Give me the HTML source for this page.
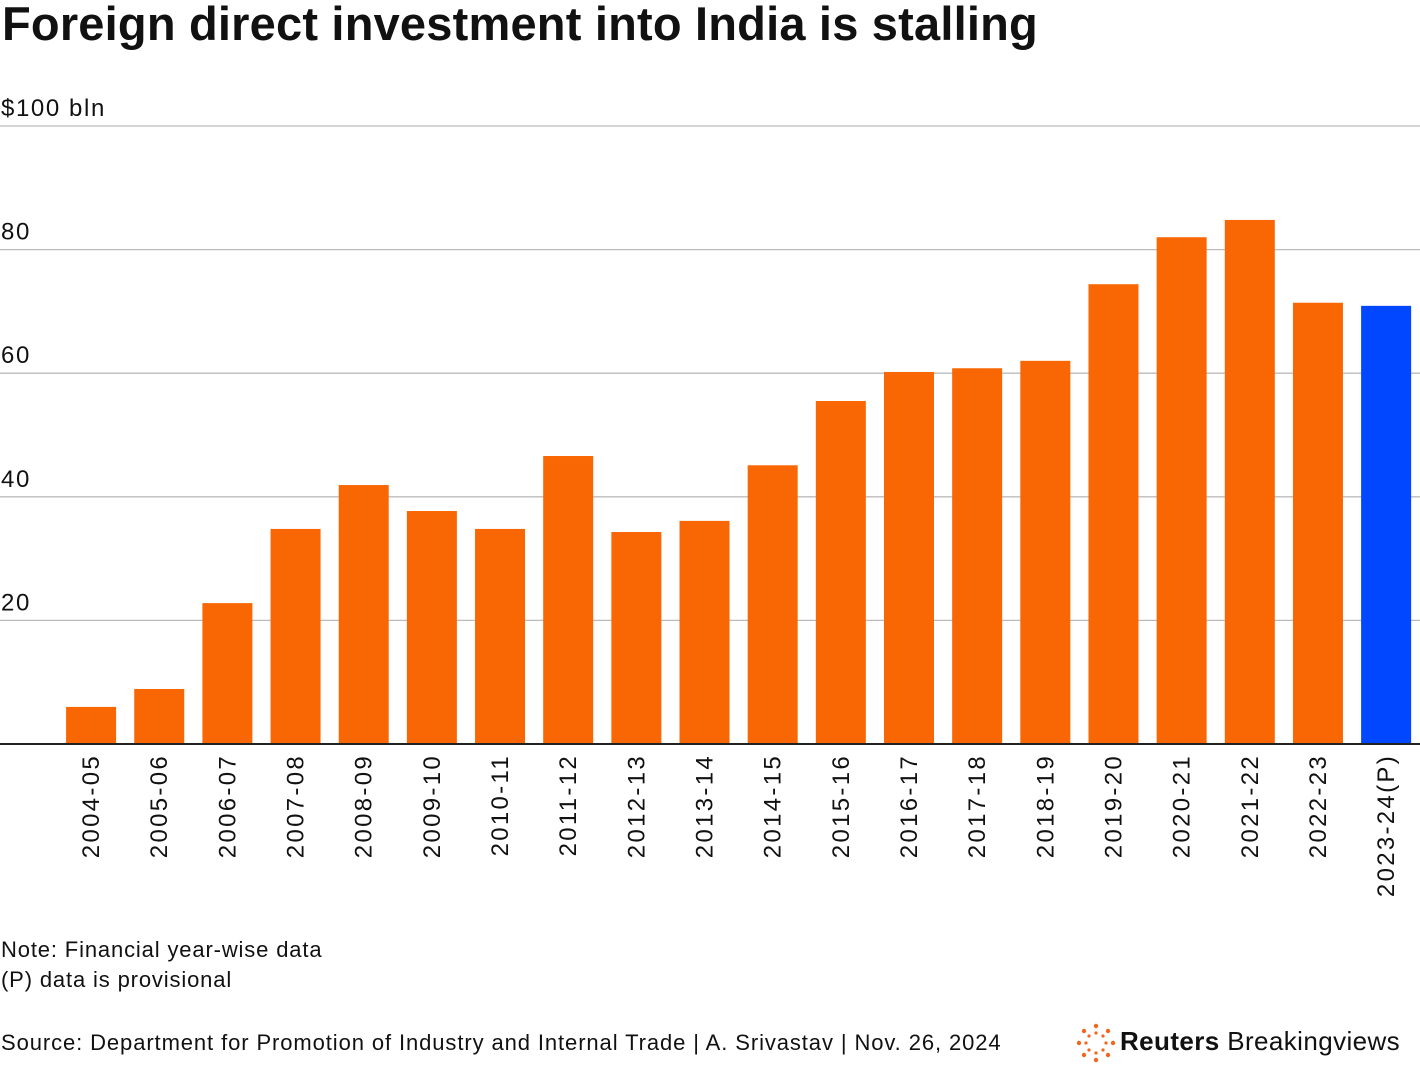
<!DOCTYPE html>
<html><head><meta charset="utf-8"><style>
body{margin:0;width:1420px;height:1092px;background:#fff;font-family:"Liberation Sans",Arial,sans-serif;overflow:hidden;position:relative;color:#111}
.t{position:absolute;white-space:nowrap}
</style></head><body>
<div class="t" style="left:2px;top:-4px;font-size:47px;font-weight:bold;letter-spacing:0.2px">Foreign direct investment into India is stalling</div>
<svg id="c" width="1420" height="1092" style="position:absolute;left:0;top:0"></svg>
<div class="t" style="left:1px;top:935px;font-size:22px;letter-spacing:0.85px;line-height:30px">Note: Financial year-wise data<br>(P) data is provisional</div>
<div class="t" style="left:1px;top:1030px;font-size:22px;letter-spacing:0.9px">Source: Department for Promotion of Industry and Internal Trade | A. Srivastav | Nov. 26, 2024</div>
<div class="t" style="left:1076px;top:1023px;font-size:26px;letter-spacing:0.4px">
<svg width="40" height="40" style="vertical-align:middle;margin-right:4px" viewBox="0 0 40 40"><g fill="#f26622">
<circle cx="20" cy="3" r="2.2"/><circle cx="20" cy="37" r="2.2"/><circle cx="3" cy="20" r="2.2"/><circle cx="37" cy="20" r="2.2"/>
<circle cx="8" cy="8" r="2.2"/><circle cx="32" cy="8" r="2.2"/><circle cx="8" cy="32" r="2.2"/><circle cx="32" cy="32" r="2.2"/>
<circle cx="20" cy="10" r="1.6"/><circle cx="20" cy="30" r="1.6"/><circle cx="10" cy="20" r="1.6"/><circle cx="30" cy="20" r="1.6"/>
<circle cx="13" cy="13" r="1.6"/><circle cx="27" cy="13" r="1.6"/><circle cx="13" cy="27" r="1.6"/><circle cx="27" cy="27" r="1.6"/></g></svg><b>Reuters</b> Breakingviews</div>
<script>
const categories=["2004-05","2005-06","2006-07","2007-08","2008-09","2009-10","2010-11","2011-12","2012-13","2013-14","2014-15","2015-16","2016-17","2017-18","2018-19","2019-20","2020-21","2021-22","2022-23","2023-24(P)"];
const values=[6.0,8.9,22.8,34.8,41.9,37.7,34.8,46.6,34.3,36.1,45.1,55.5,60.2,60.8,62.0,74.4,82.0,84.8,71.4,70.9];
const yTicks=[20,40,60,80,100];
const yTickLabels=["20","40","60","80","$100 bln"];
const NS="http://www.w3.org/2000/svg";
const svg=document.getElementById('c');
const y0=744,y100=126,x0=57,step=68.16,bw=50;
const y=v=>y0-(y0-y100)*v/100;
const x=i=>x0+i*step+(step-bw)/2;
function mk(t,a){const e=document.createElementNS(NS,t);for(const k in a)e.setAttribute(k,a[k]);svg.appendChild(e);return e;}
yTicks.forEach((v,i)=>{
 const l=mk('line',{x1:0,x2:1420,y1:y(v),y2:y(v),stroke:'#bbb','stroke-width':1.3});
 
 
 const t=mk('text',{x:1,y:y(v)-10,'font-size':24,'letter-spacing':1.6,fill:'#111'});
 t.textContent=yTickLabels[i];
 
 
});
values.forEach((v,i)=>{
 const r=mk('rect',{x:x(i),y:y(v),width:bw,height:y0-y(v),fill:i==values.length-1?'#0047ff':'#f96604'});
 
 
 const cx=x(i)+bw/2;
 const t=mk('text',{x:0,y:0,'font-size':24,'letter-spacing':2.3,fill:'#111','text-anchor':'end',transform:`translate(${cx+8},754) rotate(-90)`});
 t.textContent=categories[i];
 
 
});
const ax=mk('line',{x1:0,x2:1420,y1:y0,y2:y0,stroke:'#222','stroke-width':2});


</script>
</body></html>
